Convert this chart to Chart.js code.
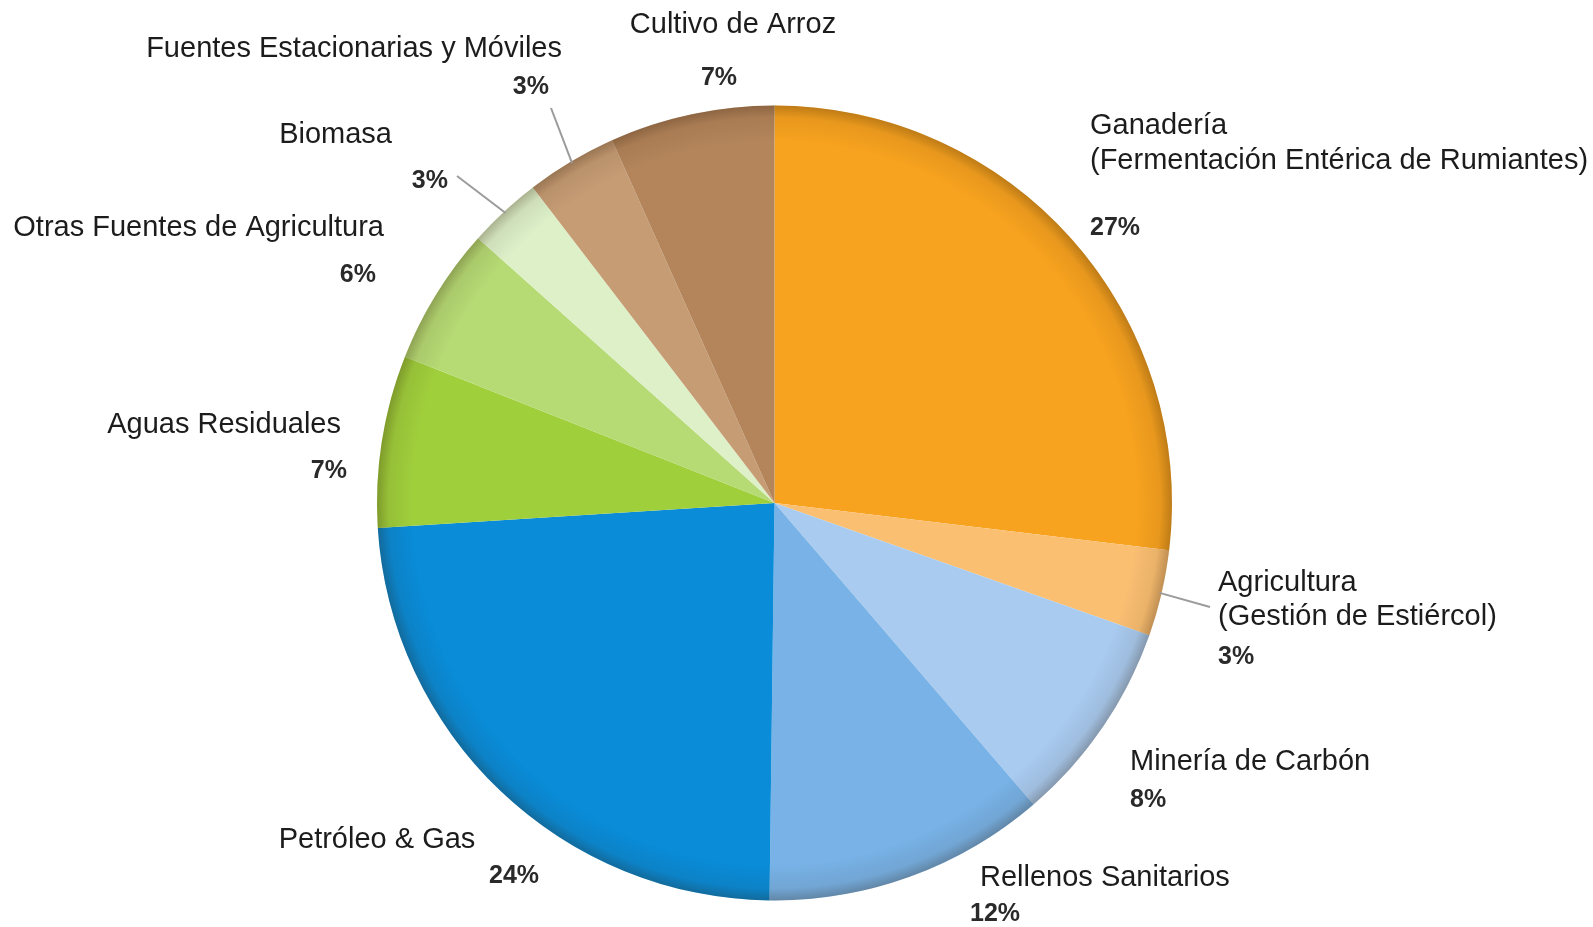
<!DOCTYPE html>
<html>
<head>
<meta charset="utf-8">
<script src="https://cdn.jsdelivr.net/npm/chart.js@4/dist/chart.umd.min.js"></script>
<style>
  html, body { margin: 0; padding: 0; background: #ffffff; }
  #wrap { width: 1593px; height: 927px; position: relative; }
</style>
</head>
<body>
<div id="wrap"><canvas id="c" width="1593" height="927"></canvas></div>
<script>
// ---- data ----
const categories = [
  "Ganadería\n(Fermentación Entérica de Rumiantes)",
  "Agricultura\n(Gestión de Estiércol)",
  "Minería de Carbón",
  "Rellenos Sanitarios",
  "Petróleo & Gas",
  "Aguas Residuales",
  "Otras Fuentes de Agricultura",
  "Biomasa",
  "Fuentes Estacionarias y Móviles",
  "Cultivo de Arroz"
];
// slice shares as measured from the slice angles
const values = [26.9, 3.5, 8.3, 11.5, 23.8, 7.0, 5.6, 3.0, 3.7, 6.7];
// percentages as printed on the chart
const pctLabels = ["27%", "3%", "8%", "12%", "24%", "7%", "6%", "3%", "3%", "7%"];

// ---- styles ----
const colors = ["#F8A31F", "#FBBF72", "#A9CBF0", "#78B2E6", "#0A8CD8",
                "#A0CF3C", "#B6DA74", "#DDF0C8", "#C69C74", "#B4855B"];

// label layout (canvas px)
const labelLayout = [
  { x: 1090, y: 126, align: "left",   lh: 35, px: 1090, py: 228, palign: "left" },
  { x: 1218, y: 583, align: "left",   lh: 34, px: 1218, py: 657, palign: "left", line: [1210, 607] },
  { x: 1130, y: 762, align: "left",   lh: 34, px: 1130, py: 800, palign: "left" },
  { x: 980,  y: 878, align: "left",   lh: 34, px: 970,  py: 914, palign: "left" },
  { x: 377,  y: 840, align: "center", lh: 34, px: 514,  py: 876, palign: "center" },
  { x: 341,  y: 425, align: "right",  lh: 34, px: 347,  py: 471, palign: "right" },
  { x: 384,  y: 228, align: "right",  lh: 34, px: 376,  py: 275, palign: "right" },
  { x: 392,  y: 135, align: "right",  lh: 34, px: 448,  py: 181, palign: "right", line: [457, 176] },
  { x: 562,  y: 49,  align: "right",  lh: 34, px: 549,  py: 87,  palign: "right", line: [551, 108] },
  { x: 733,  y: 25,  align: "center", lh: 34, px: 719,  py: 78,  palign: "center" }
];

// darkened rim overlay, drawn over the pie slices
const rimPlugin = {
  id: "rimShade",
  afterDatasetsDraw(chart) {
    const arcs = chart.getDatasetMeta(0).data;
    if (!arcs.length) return;
    const { x, y, outerRadius } = arcs[0].getProps(["x", "y", "outerRadius"], true);
    const c = chart.ctx;
    c.save();
    const g = c.createRadialGradient(x, y, 0, x, y, outerRadius);
    g.addColorStop(0, "rgba(0,0,0,0)");
    g.addColorStop(0.91, "rgba(0,0,0,0)");
    g.addColorStop(0.97, "rgba(40,20,0,0.08)");
    g.addColorStop(1, "rgba(40,20,0,0.28)");
    c.fillStyle = g;
    c.beginPath();
    c.arc(x, y, outerRadius, 0, Math.PI * 2);
    c.fill();
    c.restore();
  }
};

const labelPlugin = {
  id: "outerLabels",
  afterDraw(chart) {
    const c = chart.ctx;
    const arcs = chart.getDatasetMeta(0).data;
    c.save();
    arcs.forEach((arc, i) => {
      const L = labelLayout[i];
      if (L.line) {
        const { x, y, startAngle, endAngle, outerRadius } =
          arc.getProps(["x", "y", "startAngle", "endAngle", "outerRadius"], true);
        const mid = (startAngle + endAngle) / 2;
        const ax = x + Math.cos(mid) * (outerRadius - 2);
        const ay = y + Math.sin(mid) * (outerRadius - 2);
        c.strokeStyle = "#9b9b9b";
        c.lineWidth = 2;
        c.beginPath();
        c.moveTo(ax, ay);
        c.lineTo(L.line[0], L.line[1]);
        c.stroke();
      }
      c.fillStyle = "#1c1c1c";
      c.font = "29px 'Liberation Sans', Arial, sans-serif";
      c.textAlign = L.align;
      c.textBaseline = "middle";
      chart.data.labels[i].split("\n").forEach((t, k) => {
        c.fillText(t, L.x, L.y + k * L.lh);
      });
      c.fillStyle = "#2a2a2a";
      c.font = "bold 25px 'Liberation Sans', Arial, sans-serif";
      c.textAlign = L.palign;
      c.fillText(pctLabels[i], L.px, L.py);
    });
    c.restore();
  }
};

new Chart(document.getElementById("c"), {
  type: "pie",
  data: {
    labels: categories,
    datasets: [{
      data: values,
      backgroundColor: colors,
      borderWidth: 0,
      hoverOffset: 0
    }]
  },
  options: {
    responsive: false,
    animation: false,
    layout: { padding: { left: 377, right: 421, top: 105, bottom: 26 } },
    plugins: {
      legend: { display: false },
      tooltip: { enabled: false }
    }
  },
  plugins: [rimPlugin, labelPlugin]
});
</script>
</body>
</html>
